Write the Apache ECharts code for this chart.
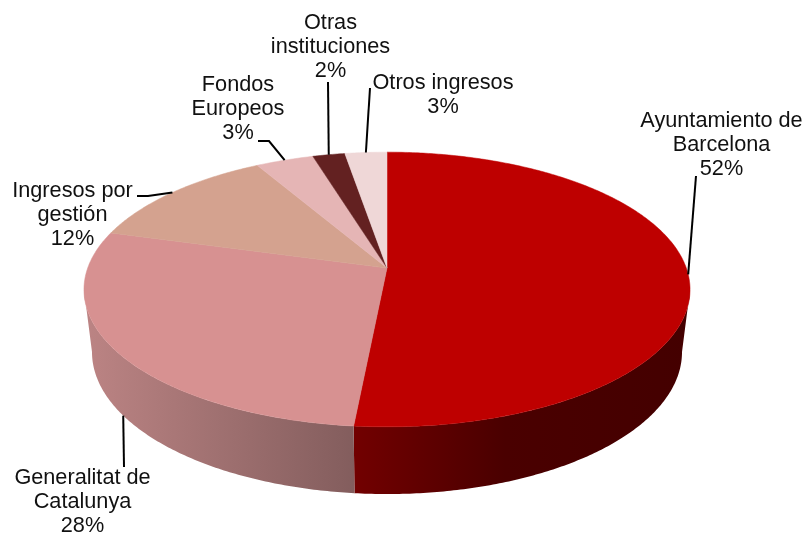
<!DOCTYPE html>
<html>
<head>
<meta charset="utf-8">
<style>
  html, body { margin: 0; padding: 0; background: #fff; }
  #chart { width: 805px; height: 535px; }
</style>
</head>
<body>
<div id="chart"></div>
<script src="https://cdn.jsdelivr.net/npm/echarts@6/dist/echarts.min.js"></script>
<script>
// valores (porcentaje de cada sector)
var categories = ['Ayuntamiento de\nBarcelona', 'Generalitat de\nCatalunya', 'Ingresos por\ngestión', 'Fondos\nEuropeos', 'Otras\ninstituciones', 'Otros ingresos'];
var values = [51.5, 27.9, 12.4, 3.6, 2.0, 2.6];
var percentLabels = ['52%', '28%', '12%', '3%', '2%', '3%'];

var topColors = ['#BE0000', '#D79191', '#D4A28F', '#E5B5B5', '#632121', '#EFD7D7'];
var sideColors = [
  [[0, '#720000'], [0.45, '#4A0000'], [1, '#440000']],
  [[0, '#BC8484'], [1, '#835D5D']],
  [[0, '#A08070'], [1, '#A08070']],
  [[0, '#AC8888'], [1, '#AC8888']],
  [[0, '#4A1818'], [1, '#4A1818']],
  [[0, '#B4A0A0'], [1, '#B4A0A0']]
];

// disposicion: texto y primer punto de cada linea guia
var labelAt = [[721.5, 109], [82.5, 466], [72.5, 179], [238, 73], [330.5, 11], [443, 71]];
var leaderFrom = [
  [[696, 176]],
  [[124, 467]],
  [[137, 196], [148, 196]],
  [[258, 141], [269, 141]],
  [[328, 82]],
  [[370, 88]]
];
var leaderOnBase = [false, true, false, false, false, false];

// tarta con perspectiva: apice, escalas y cara inferior
var APEX_X = 387, APEX_Y = 268, SX = 299.3, SY = 134, K = 0.1565;
var BASE_SX = 0.9735, BASE_SY = 1.034, BASE_DY = 61.8;

var total = values.reduce(function (a, b) { return a + b; }, 0);
var starts = [];
values.reduce(function (acc, v, i) { starts[i] = acc; return acc + v; }, 0);

function angleOf(pct) { return pct / total * Math.PI * 2; }

function rim(t, base) {
  var X = Math.sin(t), Y = -Math.cos(t), w = 1 - K * Y;
  return base
    ? [APEX_X + BASE_SX * SX * X / w, APEX_Y + BASE_DY + BASE_SY * SY * Y / w]
    : [APEX_X + SX * X / w, APEX_Y + SY * Y / w];
}

function arcPoints(a, b, base) {
  var n = Math.max(4, Math.ceil((b - a) / 0.01)), pts = [];
  for (var k = 0; k <= n; k++) pts.push(rim(a + (b - a) * k / n, base));
  return pts;
}

// la pared solo se ve entre los dos puntos de tangencia del contorno
var VISIBLE_FROM = Math.acos(-K), VISIBLE_TO = Math.PI * 2 - Math.acos(-K);

function renderSide(params) {
  var i = params.dataIndex;
  var a = Math.max(angleOf(starts[i]), VISIBLE_FROM);
  var b = Math.min(angleOf(starts[i] + values[i]), VISIBLE_TO);
  if (b <= a) return null;
  var up = arcPoints(a, b, false), low = arcPoints(a, b, true);
  var xs = up.concat(low).map(function (p) { return p[0]; });
  var stops = sideColors[i].map(function (s) { return { offset: s[0], color: s[1] }; });
  return {
    type: 'polygon',
    shape: { points: up.concat(low.reverse()) },
    style: {
      fill: {
        type: 'linear', global: true,
        x: Math.min.apply(null, xs), y: 0, x2: Math.max.apply(null, xs), y2: 0,
        colorStops: stops
      }
    }
  };
}

function renderTop(params) {
  var i = params.dataIndex;
  var a = angleOf(starts[i]), b = angleOf(starts[i] + values[i]);
  return {
    type: 'polygon',
    shape: { points: [[APEX_X, APEX_Y]].concat(arcPoints(a, b, false)) },
    style: { fill: topColors[i], stroke: topColors[i], lineWidth: 0.5 }
  };
}

function renderLabel(params) {
  var i = params.dataIndex;
  var mid = angleOf(starts[i] + values[i] / 2);
  return {
    type: 'group',
    children: [
      {
        type: 'polyline',
        shape: { points: leaderFrom[i].concat([rim(mid, leaderOnBase[i])]) },
        style: { fill: null, stroke: '#000', lineWidth: 2 }
      },
      {
        type: 'text',
        style: {
          x: labelAt[i][0], y: labelAt[i][1],
          text: categories[i] + '\n' + percentLabels[i],
          fill: '#111',
          font: '21.7px "Liberation Sans", Arial, sans-serif',
          lineHeight: 24,
          align: 'center',
          verticalAlign: 'top'
        }
      }
    ]
  };
}

var myChart = echarts.init(document.getElementById('chart'));
myChart.setOption({
  animation: false,
  backgroundColor: '#fff',
  series: [
    { type: 'custom', coordinateSystem: 'none', z: 1, renderItem: renderSide, data: values },
    { type: 'custom', coordinateSystem: 'none', z: 2, renderItem: renderTop, data: values },
    { type: 'custom', coordinateSystem: 'none', z: 3, renderItem: renderLabel, data: values }
  ]
});
</script>
</body>
</html>
